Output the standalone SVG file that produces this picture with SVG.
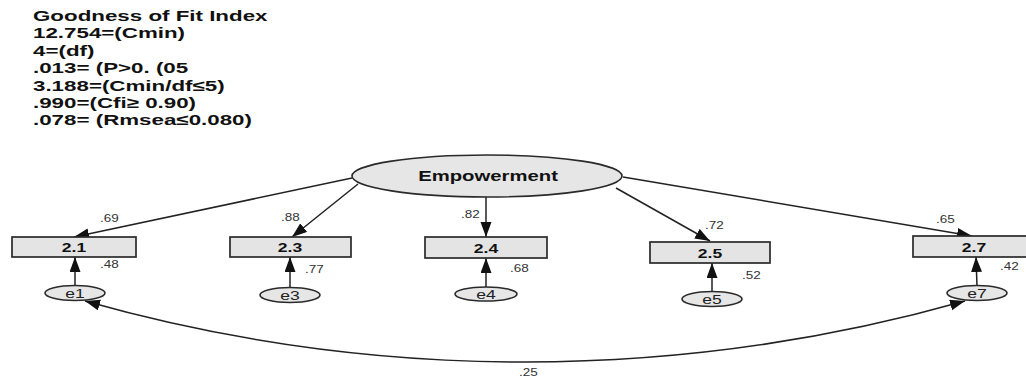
<svg xmlns="http://www.w3.org/2000/svg" width="1026" height="379" viewBox="0 0 1026 379">
<defs>
<style>
.hdr{font-family:"Liberation Sans",Arial,sans-serif;font-weight:bold;font-size:15px;fill:#111}
.box{fill:#e4e4e4;stroke:#2a2a2a;stroke-width:1.7}
.ell{fill:#e6e6e6;stroke:#2a2a2a;stroke-width:1.6}
.bl{font-family:"Liberation Sans",Arial,sans-serif;font-weight:bold;font-size:13px;fill:#111;text-anchor:middle}
.el{font-family:"Liberation Sans",Arial,sans-serif;font-size:13px;fill:#222;text-anchor:middle}
.lat{font-family:"Liberation Sans",Arial,sans-serif;font-weight:bold;font-size:14px;fill:#111;text-anchor:middle}
.num{font-family:"Liberation Sans",Arial,sans-serif;font-size:10px;fill:#333}
.edge{fill:none;stroke:#222;stroke-width:1.5}
</style>
<marker id="arr" markerUnits="userSpaceOnUse" markerWidth="16" markerHeight="12" refX="15" refY="5.5" orient="auto-start-reverse">
<path d="M0,0 L15,5.5 L0,11 Z" fill="#111"/>
</marker>
</defs>
<rect width="1026" height="379" fill="#ffffff"/>
<g id="header">
<text class="hdr" transform="translate(33,21) scale(1.49,1)">Goodness of Fit Index</text>
<text class="hdr" transform="translate(33,38.4) scale(1.49,1)">12.754=(Cmin)</text>
<text class="hdr" transform="translate(33,55.8) scale(1.49,1)">4=(df)</text>
<text class="hdr" transform="translate(33,73.2) scale(1.49,1)">.013= (P&gt;0. (05</text>
<text class="hdr" transform="translate(33,90.6) scale(1.49,1)">3.188=(Cmin/df≤5)</text>
<text class="hdr" transform="translate(33,108) scale(1.49,1)">.990=(Cfi≥ 0.90)</text>
<text class="hdr" transform="translate(33,125.4) scale(1.49,1)">.078= (Rmsea≤0.080)</text>
</g>
<g id="connectors">
<path class="edge" d="M352,178 L74,237" marker-end="url(#arr)"/>
<path class="edge" d="M358,184 L292,237" marker-end="url(#arr)"/>
<path class="edge" d="M486,197 L486,237" marker-end="url(#arr)"/>
<path class="edge" d="M616,188 L710,241" marker-end="url(#arr)"/>
<path class="edge" d="M623,177 L972,236" marker-end="url(#arr)"/>
<path class="edge" d="M75,286 L75,257" marker-end="url(#arr)"/>
<path class="edge" d="M290,288 L290,257" marker-end="url(#arr)"/>
<path class="edge" d="M486,288 L486,258" marker-end="url(#arr)"/>
<path class="edge" d="M712,292 L712,263" marker-end="url(#arr)"/>
<path class="edge" d="M977,286 L976,257" marker-end="url(#arr)"/>
<path class="edge" d="M85,301 A1617,1617 0 0 0 965,301" marker-start="url(#arr)" marker-end="url(#arr)"/>
</g>
<g id="labels">
<text class="num" transform="translate(100,222) scale(1.35,1)">.69</text>
<text class="num" transform="translate(281,221) scale(1.35,1)">.88</text>
<text class="num" transform="translate(461,218) scale(1.35,1)">.82</text>
<text class="num" transform="translate(705,229) scale(1.35,1)">.72</text>
<text class="num" transform="translate(936,223) scale(1.35,1)">.65</text>
<text class="num" transform="translate(100,268) scale(1.35,1)">.48</text>
<text class="num" transform="translate(305,273) scale(1.35,1)">.77</text>
<text class="num" transform="translate(510,272) scale(1.35,1)">.68</text>
<text class="num" transform="translate(742,279) scale(1.35,1)">.52</text>
<text class="num" transform="translate(1000,270) scale(1.35,1)">.42</text>
<text class="num" transform="translate(519,376) scale(1.35,1)">.25</text>
</g>
<g id="Empowerment">
<ellipse class="ell" cx="487" cy="176" rx="135" ry="21"/>
<text class="lat" transform="translate(488,181) scale(1.45,1)">Empowerment</text>
</g>
<g id="v2_1">
<rect class="box" x="12" y="237" width="124" height="20"/>
<text class="bl" transform="translate(74,252) scale(1.35,1)">2.1</text>
</g>
<g id="v2_3">
<rect class="box" x="230" y="237" width="121" height="20"/>
<text class="bl" transform="translate(290,252) scale(1.35,1)">2.3</text>
</g>
<g id="v2_4">
<rect class="box" x="425" y="237" width="122" height="21"/>
<text class="bl" transform="translate(486,252.5) scale(1.35,1)">2.4</text>
</g>
<g id="v2_5">
<rect class="box" x="650" y="242" width="120" height="21"/>
<text class="bl" transform="translate(710,257.5) scale(1.35,1)">2.5</text>
</g>
<g id="v2_7">
<rect class="box" x="913" y="236" width="122" height="21"/>
<text class="bl" transform="translate(974,251.5) scale(1.35,1)">2.7</text>
</g>
<g id="e1">
<ellipse class="ell" cx="75" cy="293" rx="30" ry="7.5"/>
<text class="el" transform="translate(75,297.5) scale(1.35,1)">e1</text>
</g>
<g id="e3">
<ellipse class="ell" cx="290" cy="295" rx="30" ry="7.5"/>
<text class="el" transform="translate(290,299.5) scale(1.35,1)">e3</text>
</g>
<g id="e4">
<ellipse class="ell" cx="486" cy="294" rx="31" ry="7"/>
<text class="el" transform="translate(486,298.5) scale(1.35,1)">e4</text>
</g>
<g id="e5">
<ellipse class="ell" cx="712" cy="299" rx="30" ry="7.5"/>
<text class="el" transform="translate(712,303.5) scale(1.35,1)">e5</text>
</g>
<g id="e7">
<ellipse class="ell" cx="977" cy="293" rx="30" ry="7.5"/>
<text class="el" transform="translate(977,297.5) scale(1.35,1)">e7</text>
</g>
</svg>
